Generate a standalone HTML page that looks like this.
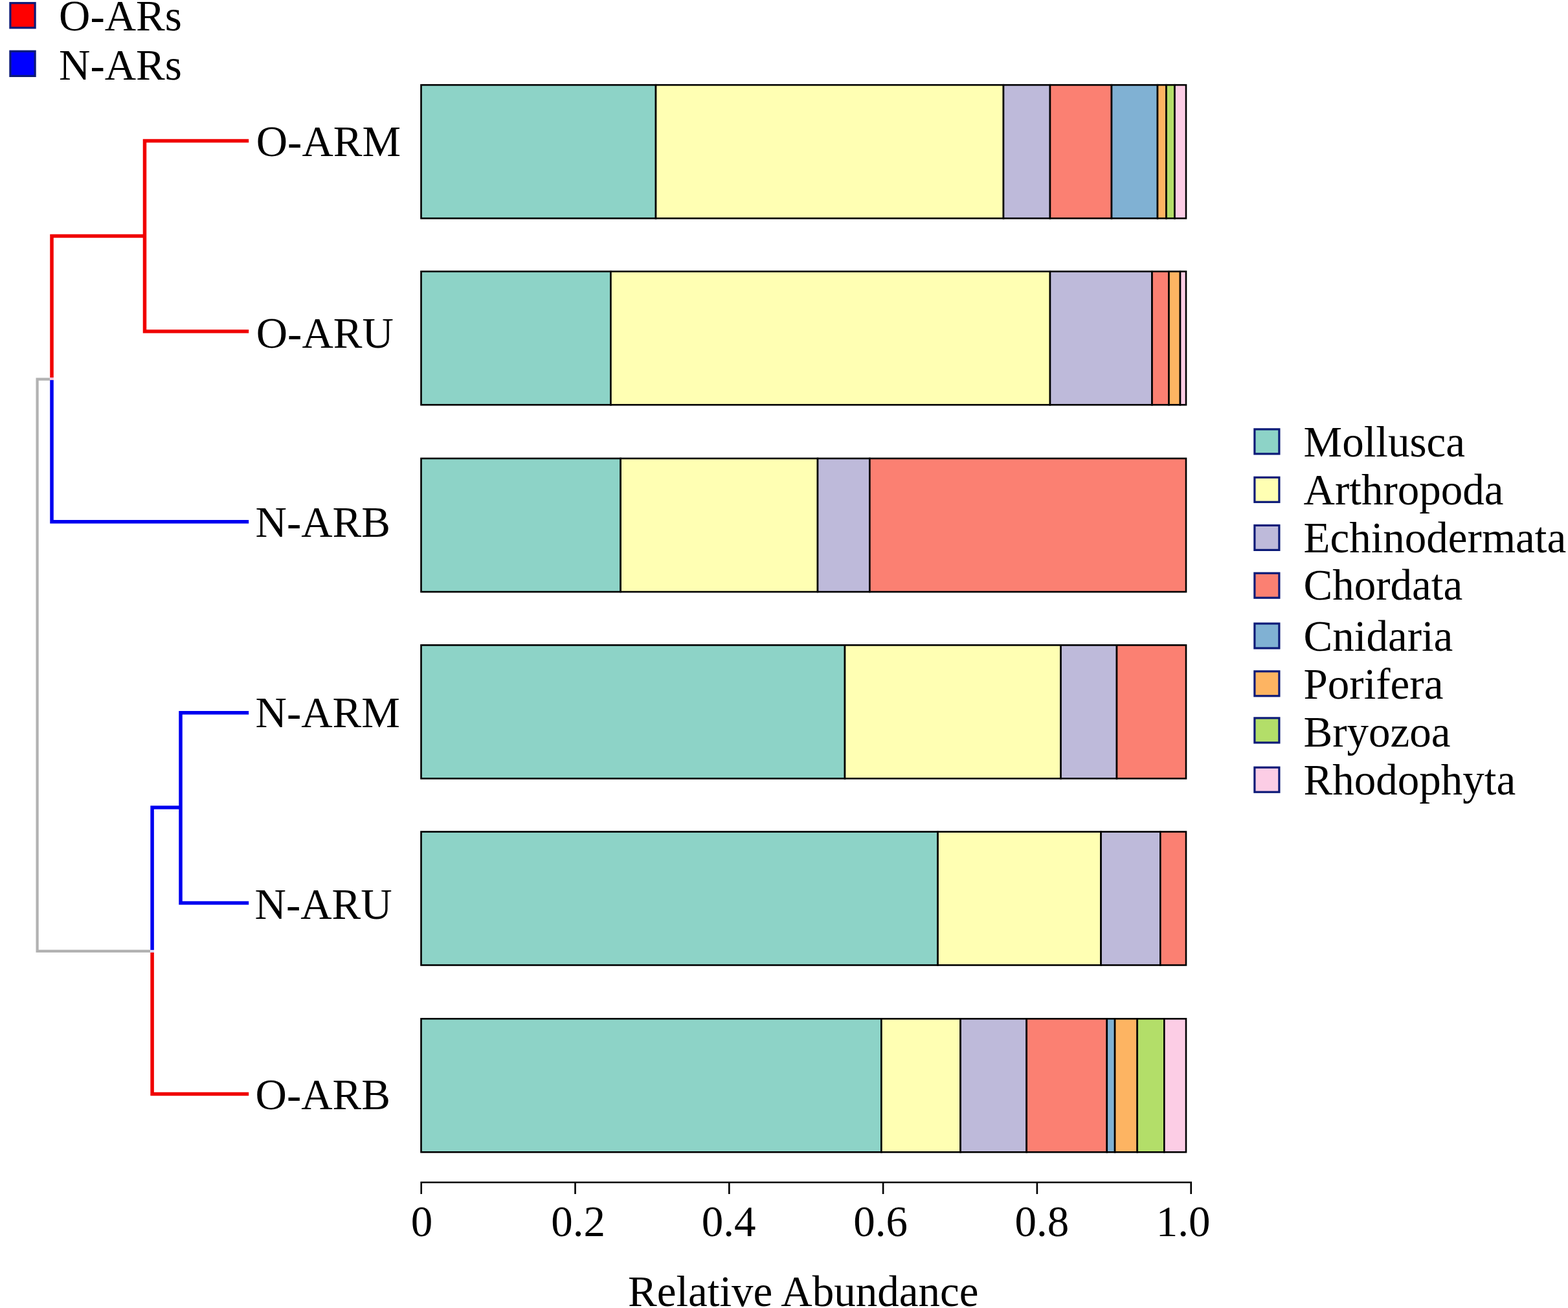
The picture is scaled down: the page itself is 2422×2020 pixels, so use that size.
<!DOCTYPE html><html><head><meta charset="utf-8"><title>Relative Abundance</title><style>
html,body{margin:0;padding:0;background:#fff;}body{width:2422px;height:2020px;overflow:hidden;}
svg{display:block;}text{font-family:"Liberation Serif", "Times New Roman", serif;font-size:67px;fill:#000;}
</style></head><body>
<svg width="2422" height="2020" viewBox="0 0 2422 2020">
<rect x="0" y="0" width="2422" height="2020" fill="#fff"/>
<rect x="15.9" y="4.7" width="38.2" height="38.2" fill="#ff0000" stroke="#0c1a78" stroke-width="3.2"/>
<rect x="15.9" y="79.2" width="38.2" height="38.2" fill="#0000ff" stroke="#0c1a78" stroke-width="3.2"/>
<text x="91" y="47.2">O-ARs</text>
<text x="91" y="122.8">N-ARs</text>
<path d="M384.2 217.4H223.5V511.8H384.2" fill="none" stroke="#f00000" stroke-width="5.5" stroke-linejoin="miter" stroke-linecap="butt"/>
<path d="M223.5 364.4H80V583" fill="none" stroke="#f00000" stroke-width="5.5" stroke-linejoin="miter" stroke-linecap="butt"/>
<path d="M80 587V805.8H384.2" fill="none" stroke="#0000f0" stroke-width="5.5" stroke-linejoin="miter" stroke-linecap="butt"/>
<path d="M384.2 1100.7H279V1394.6H384.2" fill="none" stroke="#0000f0" stroke-width="5.5" stroke-linejoin="miter" stroke-linecap="butt"/>
<path d="M279 1247H235.1V1467" fill="none" stroke="#0000f0" stroke-width="5.5" stroke-linejoin="miter" stroke-linecap="butt"/>
<path d="M235.1 1471V1689.4H384.2" fill="none" stroke="#f00000" stroke-width="5.5" stroke-linejoin="miter" stroke-linecap="butt"/>
<path d="M77 585.6H57.6V1468.8H232" fill="none" stroke="#b2b2b2" stroke-width="4.2" stroke-linejoin="miter" stroke-linecap="butt"/>
<rect x="77.2" y="583" width="5.6" height="4" fill="#f2c4dc"/>
<rect x="232.3" y="1467" width="5.6" height="4" fill="#dcd6f6"/>
<text x="395.7" y="240.9">O-ARM</text>
<text x="395.7" y="536.5">O-ARU</text>
<text x="394.5" y="829.0">N-ARB</text>
<text x="394.5" y="1123.0">N-ARM</text>
<text x="393.5" y="1419.0">N-ARU</text>
<text x="394.5" y="1712.8">O-ARB</text>
<rect x="650.5" y="131.2" width="362.5" height="206.0" fill="#8dd3c7" stroke="#000" stroke-width="2.6"/>
<rect x="1013.0" y="131.2" width="537.0" height="206.0" fill="#ffffb3" stroke="#000" stroke-width="2.6"/>
<rect x="1550.0" y="131.2" width="72.0" height="206.0" fill="#bebada" stroke="#000" stroke-width="2.6"/>
<rect x="1622.0" y="131.2" width="95.0" height="206.0" fill="#fb8072" stroke="#000" stroke-width="2.6"/>
<rect x="1717.0" y="131.2" width="71.0" height="206.0" fill="#80b1d3" stroke="#000" stroke-width="2.6"/>
<rect x="1788.0" y="131.2" width="13.5" height="206.0" fill="#fdb462" stroke="#000" stroke-width="2.6"/>
<rect x="1801.5" y="131.2" width="13.0" height="206.0" fill="#b3de69" stroke="#000" stroke-width="2.6"/>
<rect x="1814.5" y="131.2" width="17.5" height="206.0" fill="#fccde5" stroke="#000" stroke-width="2.6"/>
<rect x="650.5" y="419.2" width="292.9" height="206.0" fill="#8dd3c7" stroke="#000" stroke-width="2.6"/>
<rect x="943.4" y="419.2" width="678.6" height="206.0" fill="#ffffb3" stroke="#000" stroke-width="2.6"/>
<rect x="1622.0" y="419.2" width="157.5" height="206.0" fill="#bebada" stroke="#000" stroke-width="2.6"/>
<rect x="1779.5" y="419.2" width="26.0" height="206.0" fill="#fb8072" stroke="#000" stroke-width="2.6"/>
<rect x="1805.5" y="419.2" width="17.5" height="206.0" fill="#fdb462" stroke="#000" stroke-width="2.6"/>
<rect x="1823.0" y="419.2" width="9.0" height="206.0" fill="#fccde5" stroke="#000" stroke-width="2.6"/>
<rect x="650.5" y="708.0" width="308.1" height="206.0" fill="#8dd3c7" stroke="#000" stroke-width="2.6"/>
<rect x="958.6" y="708.0" width="304.4" height="206.0" fill="#ffffb3" stroke="#000" stroke-width="2.6"/>
<rect x="1263.0" y="708.0" width="80.4" height="206.0" fill="#bebada" stroke="#000" stroke-width="2.6"/>
<rect x="1343.4" y="708.0" width="488.6" height="206.0" fill="#fb8072" stroke="#000" stroke-width="2.6"/>
<rect x="650.5" y="996.3" width="654.5" height="206.0" fill="#8dd3c7" stroke="#000" stroke-width="2.6"/>
<rect x="1305.0" y="996.3" width="333.6" height="206.0" fill="#ffffb3" stroke="#000" stroke-width="2.6"/>
<rect x="1638.6" y="996.3" width="86.4" height="206.0" fill="#bebada" stroke="#000" stroke-width="2.6"/>
<rect x="1725.0" y="996.3" width="107.0" height="206.0" fill="#fb8072" stroke="#000" stroke-width="2.6"/>
<rect x="650.5" y="1284.5" width="798.1" height="206.0" fill="#8dd3c7" stroke="#000" stroke-width="2.6"/>
<rect x="1448.6" y="1284.5" width="252.0" height="206.0" fill="#ffffb3" stroke="#000" stroke-width="2.6"/>
<rect x="1700.6" y="1284.5" width="91.7" height="206.0" fill="#bebada" stroke="#000" stroke-width="2.6"/>
<rect x="1792.3" y="1284.5" width="39.7" height="206.0" fill="#fb8072" stroke="#000" stroke-width="2.6"/>
<rect x="650.5" y="1573.3" width="710.9" height="206.0" fill="#8dd3c7" stroke="#000" stroke-width="2.6"/>
<rect x="1361.4" y="1573.3" width="122.2" height="206.0" fill="#ffffb3" stroke="#000" stroke-width="2.6"/>
<rect x="1483.6" y="1573.3" width="102.1" height="206.0" fill="#bebada" stroke="#000" stroke-width="2.6"/>
<rect x="1585.7" y="1573.3" width="124.1" height="206.0" fill="#fb8072" stroke="#000" stroke-width="2.6"/>
<rect x="1709.8" y="1573.3" width="12.3" height="206.0" fill="#80b1d3" stroke="#000" stroke-width="2.6"/>
<rect x="1722.1" y="1573.3" width="34.6" height="206.0" fill="#fdb462" stroke="#000" stroke-width="2.6"/>
<rect x="1756.7" y="1573.3" width="41.6" height="206.0" fill="#b3de69" stroke="#000" stroke-width="2.6"/>
<rect x="1798.3" y="1573.3" width="33.7" height="206.0" fill="#fccde5" stroke="#000" stroke-width="2.6"/>
<path d="M650.7 1844V1826.0H1839.7V1844" fill="none" stroke="#000" stroke-width="2.6"/>
<line x1="888.5" y1="1826.0" x2="888.5" y2="1844.0" stroke="#000" stroke-width="2.6"/>
<line x1="1126.3" y1="1826.0" x2="1126.3" y2="1844.0" stroke="#000" stroke-width="2.6"/>
<line x1="1364.1" y1="1826.0" x2="1364.1" y2="1844.0" stroke="#000" stroke-width="2.6"/>
<line x1="1601.9" y1="1826.0" x2="1601.9" y2="1844.0" stroke="#000" stroke-width="2.6"/>
<text x="651.6" y="1908.9" text-anchor="middle">0</text>
<text x="893.0" y="1908.9" text-anchor="middle">0.2</text>
<text x="1125.5" y="1908.9" text-anchor="middle">0.4</text>
<text x="1360.0" y="1908.9" text-anchor="middle">0.6</text>
<text x="1609.4" y="1908.9" text-anchor="middle">0.8</text>
<text x="1827.5" y="1908.9" text-anchor="middle">1.0</text>
<text x="1240.7" y="2016.6" text-anchor="middle">Relative Abundance</text>
<rect x="1937.9" y="662.9" width="38" height="38" fill="#8dd3c7" stroke="#0c1a78" stroke-width="3.2"/>
<text x="2013.6" y="705.2">Mollusca</text>
<rect x="1937.9" y="737.3" width="38" height="38" fill="#ffffb3" stroke="#0c1a78" stroke-width="3.2"/>
<text x="2013.6" y="779.1">Arthropoda</text>
<rect x="1937.9" y="811.4" width="38" height="38" fill="#bebada" stroke="#0c1a78" stroke-width="3.2"/>
<text x="2013.6" y="852.5">Echinodermata</text>
<rect x="1937.9" y="885.2" width="38" height="38" fill="#fb8072" stroke="#0c1a78" stroke-width="3.2"/>
<text x="2013.6" y="926.0">Chordata</text>
<rect x="1937.9" y="963.0" width="38" height="38" fill="#80b1d3" stroke="#0c1a78" stroke-width="3.2"/>
<text x="2013.6" y="1004.7">Cnidaria</text>
<rect x="1937.9" y="1036.8" width="38" height="38" fill="#fdb462" stroke="#0c1a78" stroke-width="3.2"/>
<text x="2013.6" y="1079.3">Porifera</text>
<rect x="1937.9" y="1108.9" width="38" height="38" fill="#b3de69" stroke="#0c1a78" stroke-width="3.2"/>
<text x="2013.6" y="1153.0">Bryozoa</text>
<rect x="1937.9" y="1185.2" width="38" height="38" fill="#fccde5" stroke="#0c1a78" stroke-width="3.2"/>
<text x="2013.6" y="1227.1">Rhodophyta</text>
</svg></body></html>
